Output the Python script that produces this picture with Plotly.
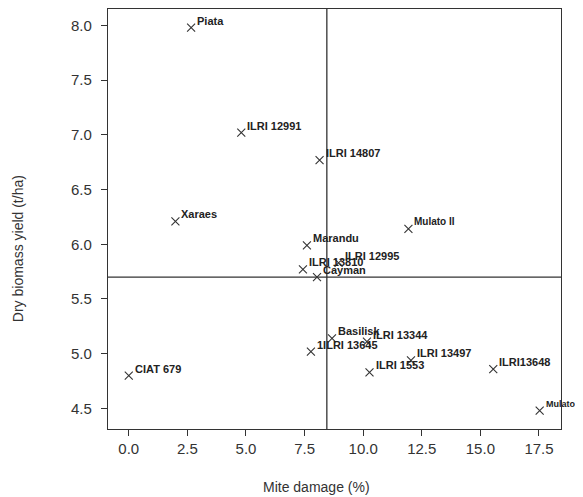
import plotly.graph_objects as go

# Data
genotypes = ["Piata", "ILRI 12991", "ILRI 14807", "Xaraes", "Marandu", "ILRI 13810",
             "Cayman", "ILRI 12995", "Mulato II", "Basilisk", "ILRI 13344", "1ILRI 13645",
             "CIAT 679", "ILRI 1553", "ILRI 13497", "ILRI13648", "Mulato"]
mite_damage = [2.66, 4.80, 8.14, 1.99, 7.60, 7.43, 8.03, 8.95, 11.93, 8.67, 10.16, 7.77,
               0.00, 10.27, 12.04, 15.55, 17.53]
dry_biomass = [7.98, 7.02, 6.77, 6.21, 5.99, 5.77, 5.70, 5.83, 6.14, 5.14, 5.11, 5.02,
               4.80, 4.83, 4.94, 4.86, 4.48]
label_sizes = [11, 11, 11, 11, 11, 11, 11, 11, 10, 11, 11, 11, 11, 11, 11, 11, 9]

mean_damage = 8.45
mean_yield = 5.70

x_ticks = [0.0, 2.5, 5.0, 7.5, 10.0, 12.5, 15.0, 17.5]
y_ticks = [4.5, 5.0, 5.5, 6.0, 6.5, 7.0, 7.5, 8.0]

x_title = "Mite damage (%)"
y_title = "Dry biomass yield (t/ha)"

ink = "#333333"
font_family = "Liberation Sans, Arial, sans-serif"

fig = go.Figure()
fig.add_trace(go.Scatter(
    x=mite_damage, y=dry_biomass, mode="markers",
    marker=dict(symbol="x-thin-open", size=8, line=dict(color=ink, width=1.1), color=ink),
    hoverinfo="text", text=genotypes, showlegend=False,
))

annotations = []
for name, xv, yv, fs in zip(genotypes, mite_damage, dry_biomass, label_sizes):
    annotations.append(dict(
        x=xv, y=yv, xref="x", yref="y", text=name, showarrow=False,
        xanchor="left", yanchor="middle", xshift=4, yshift=7,
        font=dict(family=font_family, size=fs, color="#222222", weight="bold"),
    ))

annotations.append(dict(
    x=0.46, y=-0.138, xref="paper", yref="paper", text=x_title, showarrow=False,
    xanchor="center", yanchor="middle",
    font=dict(family=font_family, size=14, color=ink),
))
annotations.append(dict(
    x=-0.197, y=0.43, xref="paper", yref="paper", text=y_title, showarrow=False,
    xanchor="center", yanchor="middle", textangle=-90,
    font=dict(family=font_family, size=14, color=ink),
))

shapes = [
    dict(type="line", xref="x", yref="paper", x0=mean_damage, x1=mean_damage, y0=0, y1=1,
         line=dict(color=ink, width=1.3)),
    dict(type="line", xref="paper", yref="y", x0=0, x1=1, y0=mean_yield, y1=mean_yield,
         line=dict(color=ink, width=1.3)),
]

axis_common = dict(
    showgrid=False, zeroline=False, showline=True, linecolor=ink, linewidth=1.2,
    mirror=True, ticks="outside", ticklen=6, tickcolor=ink, tickwidth=1.2,
    tickfont=dict(family=font_family, size=15, color=ink),
)

# page body has an 8px margin, so the figure is sized/offset to compensate
fig.update_layout(
    width=575, height=489,
    margin=dict(l=99.5, r=22, t=1, b=68),
    paper_bgcolor="white", plot_bgcolor="white",
    xaxis=dict(range=[-0.886, 18.44], tickvals=x_ticks, tickformat=".1f", **axis_common),
    yaxis=dict(range=[4.312, 8.15], tickvals=y_ticks, tickformat=".1f",
               ticklabelstandoff=6, **axis_common),
    annotations=annotations,
    shapes=shapes,
)

fig.write_html("out.html")
